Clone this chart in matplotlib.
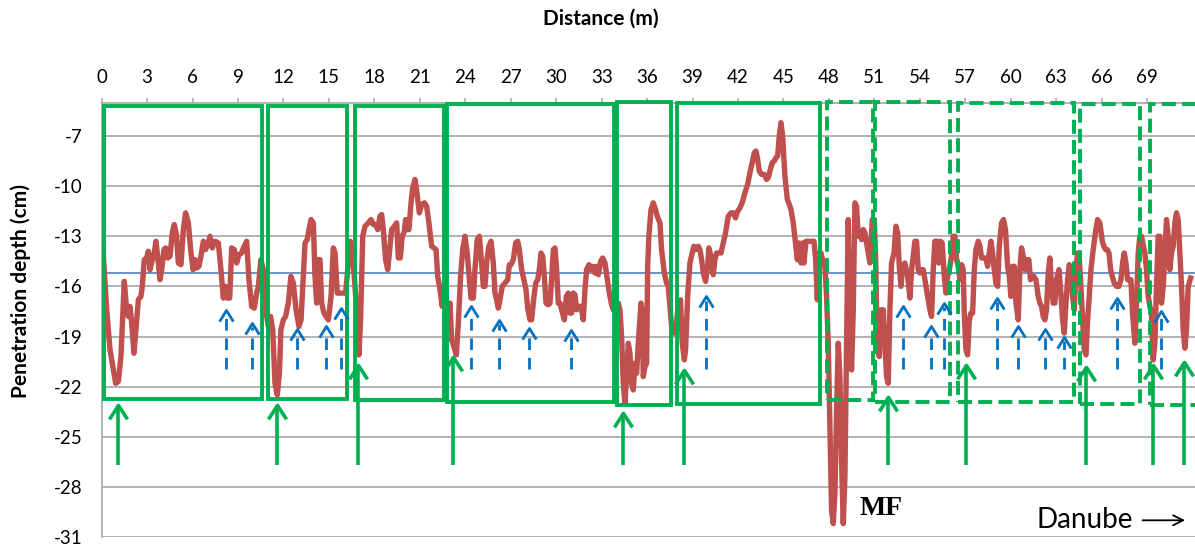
import matplotlib
matplotlib.use("Agg")
import matplotlib.pyplot as plt
from matplotlib.patches import Rectangle
from matplotlib.path import Path

plt.rcParams['font.family'] = ['Lato', 'DejaVu Sans']
plt.rcParams['axes.unicode_minus'] = False

# ---------------- data ----------------
distance = [
    0.00, 0.11, 0.33, 0.55, 0.77, 0.92, 1.10, 1.27, 1.49, 1.65, 1.76, 1.87, 1.98, 2.13, 2.31, 2.42,
    2.59, 2.68, 2.81, 2.97, 3.08, 3.19, 3.34, 3.47, 3.58, 3.69, 3.85, 3.96, 4.11, 4.22, 4.35, 4.51,
    4.66, 4.79, 4.93, 5.06, 5.23, 5.39, 5.54, 5.72, 5.87, 6.03, 6.16, 6.27, 6.42, 6.55, 6.71, 6.86,
    6.99, 7.15, 7.30, 7.48, 7.70, 7.87, 8.03, 8.18, 8.31, 8.45, 8.58, 8.75, 8.91, 9.06, 9.24, 9.35,
    9.57, 9.72, 9.90, 10.07, 10.23, 10.34, 10.51, 10.67, 10.82, 11.00, 11.15, 11.29, 11.44, 11.59,
    11.73, 11.83, 11.99, 12.14, 12.32, 12.49, 12.65, 12.83, 13.02, 13.16, 13.31, 13.42, 13.57, 13.68,
    13.82, 13.97, 14.08, 14.19, 14.30, 14.41, 14.52, 14.67, 14.81, 14.96, 15.14, 15.29, 15.40, 15.55,
    15.73, 15.95, 16.10, 16.28, 16.41, 16.54, 16.72, 16.87, 16.98, 17.09, 17.23,
    17.38, 17.60, 17.78, 17.93, 18.08, 18.22, 18.37, 18.48, 18.59, 18.74, 18.88, 19.03, 19.14, 19.32,
    19.47, 19.58, 19.71, 19.84, 19.98, 20.06, 20.20, 20.28, 20.42, 20.53, 20.68, 20.81, 20.97, 21.12,
    21.30, 21.45, 21.60, 21.78, 21.93, 22.07, 22.18, 22.33, 22.48, 22.66, 22.77, 22.88, 22.99, 23.10,
    23.28, 23.41, 23.54, 23.69, 23.83, 23.98, 24.13, 24.27, 24.38, 24.53, 24.64, 24.79, 24.93, 25.08,
    25.19, 25.30, 25.43, 25.56, 25.70, 25.85, 25.96, 26.07, 26.18, 26.29, 26.44, 26.62, 26.80, 26.91,
    27.02, 27.17, 27.33, 27.46, 27.57, 27.72, 27.87, 28.01, 28.12, 28.27, 28.38, 28.51, 28.65, 28.78,
    28.89, 29.00, 29.11, 29.22, 29.33, 29.48, 29.59, 29.70, 29.81, 29.92, 30.03, 30.14, 30.25, 30.36,
    30.54, 30.67, 30.80, 30.91, 31.02, 31.13, 31.24, 31.35, 31.46, 31.64, 31.79, 31.90, 32.01, 32.17,
    32.30, 32.41, 32.56, 32.67, 32.78, 32.94, 33.07, 33.22, 33.38, 33.51, 33.66, 33.77, 33.93, 34.10,
    34.21, 34.32, 34.43, 34.54, 34.65, 34.76, 34.87, 34.98, 35.09, 35.20, 35.31, 35.42,
    35.60, 35.68, 35.75, 35.86, 35.97, 36.04, 36.12, 36.26, 36.41, 36.56, 36.67, 36.85, 36.96, 37.14,
    37.29, 37.40, 37.51, 37.62, 37.80, 37.95, 38.06, 38.21, 38.32, 38.46, 38.54, 38.68, 38.83, 38.98,
    39.09, 39.23, 39.38, 39.49, 39.60, 39.71, 39.86, 40.00, 40.08, 40.22, 40.37, 40.48, 40.59, 40.70,
    40.88, 41.03, 41.18, 41.36, 41.54, 41.69, 41.84, 41.98, 42.13, 42.28, 42.46, 42.64, 42.79, 42.94,
    43.08, 43.19, 43.30, 43.41, 43.56, 43.74, 43.89, 44.00, 44.11, 44.26, 44.40, 44.51, 44.62, 44.73,
    44.84, 44.95, 45.10, 45.26, 45.39, 45.50, 45.65, 45.80, 45.92, 46.03, 46.16, 46.27, 46.35, 46.49,
    46.64, 46.86, 47.02, 47.13, 47.24, 47.35, 47.48, 47.63, 47.74, 47.85, 47.96, 48.07, 48.18, 48.29,
    48.40, 48.51, 48.62, 48.73, 48.84, 48.95, 49.06, 49.17, 49.28, 49.39, 49.50, 49.61, 49.72, 49.83,
    49.94, 50.05, 50.16, 50.27, 50.38, 50.49, 50.60, 50.71, 50.87, 51.00, 51.09, 51.20, 51.33, 51.44,
    51.59, 51.70, 51.81, 51.92, 52.03, 52.14, 52.30, 52.43, 52.54, 52.65, 52.76, 52.87,
    53.02, 53.20, 53.35, 53.46, 53.57, 53.68, 53.79, 53.90, 54.01, 54.12, 54.23, 54.38, 54.52, 54.67,
    54.78, 54.89, 55.00, 55.15, 55.26, 55.37, 55.48, 55.62, 55.73, 55.84, 55.99, 56.10, 56.21, 56.32,
    56.43, 56.54, 56.65, 56.76, 56.87, 56.94, 57.05, 57.16, 57.27, 57.38, 57.49, 57.60, 57.71, 57.86,
    57.97, 58.08, 58.23, 58.37, 58.48, 58.59, 58.70, 58.81, 58.92, 59.03, 59.14, 59.25, 59.40, 59.53,
    59.66, 59.80, 59.91, 60.02, 60.13, 60.24, 60.35, 60.50, 60.61, 60.72, 60.83, 60.94, 61.09, 61.20,
    61.31, 61.42, 61.53, 61.67, 61.82, 61.93, 62.04, 62.15, 62.26, 62.37, 62.48, 62.59, 62.70, 62.81,
    62.92, 63.03, 63.19, 63.30, 63.43, 63.54, 63.65, 63.76, 63.87, 63.98, 64.09, 64.20, 64.31, 64.42,
    64.53, 64.64, 64.75, 64.86, 64.97, 65.08, 65.19, 65.30, 65.45, 65.61, 65.74, 65.89, 66.05, 66.16,
    66.27, 66.38, 66.49, 66.60, 66.71, 66.84, 66.99, 67.15, 67.28, 67.39, 67.50, 67.61, 67.72, 67.83,
    67.94, 68.05, 68.20, 68.31, 68.42, 68.53, 68.64, 68.75, 68.86, 68.97, 69.08, 69.19, 69.30, 69.41,
    69.52, 69.63, 69.74, 69.85, 69.96, 70.07, 70.18, 70.29, 70.40, 70.51, 70.62, 70.73, 70.84, 70.95,
    71.06, 71.17, 71.28, 71.39, 71.50, 71.61, 71.72, 71.88,
]
depth = [
    -13.6, -14.2, -17.4, -19.8, -21.0, -21.8, -21.7, -20.2, -15.7, -17.4, -17.8, -17.2, -18.2, -20.0, -18.0, -16.8,
    -16.6, -16.0, -14.4, -14.3, -13.9, -15.0, -14.4, -14.0, -13.3, -14.2, -15.6, -15.0, -13.8, -13.7, -14.3, -14.2,
    -12.8, -12.3, -12.9, -14.6, -14.7, -12.6, -11.6, -12.2, -13.8, -15.0, -14.4, -14.9, -14.8, -14.2, -13.3, -13.8,
    -13.5, -13.0, -13.7, -13.3, -13.4, -15.0, -16.7, -16.0, -16.7, -16.7, -13.7, -13.8, -14.6, -14.1, -14.0, -13.7,
    -13.3, -15.6, -17.2, -17.3, -16.4, -16.0, -14.4, -15.0, -17.4, -18.4, -17.8, -18.6, -21.8, -22.5,
    -21.2, -18.6, -18.0, -17.8, -17.0, -15.4, -15.8, -17.4, -18.4, -18.0, -15.4, -13.4, -13.2, -12.6,
    -12.0, -12.2, -15.4, -17.0, -14.4, -14.4, -17.0, -17.6, -17.8, -18.0, -16.6, -13.7, -14.0, -16.4,
    -16.4, -16.4, -16.4, -14.6, -13.3, -13.8, -16.0, -18.0, -20.1, -18.0, -13.0,
    -12.4, -12.2, -12.0, -12.3, -12.3, -12.6, -11.8, -11.7, -12.6, -14.4, -15.0, -13.6, -12.6, -12.4,
    -12.2, -14.3, -14.3, -13.0, -12.7, -12.0, -12.6, -12.6, -11.0, -10.1, -9.6, -10.4, -11.6, -11.1,
    -11.0, -11.2, -12.2, -13.6, -13.7, -13.8, -15.4, -16.2, -17.2, -15.6, -17.4, -17.8, -17.0, -19.2,
    -19.7, -20.1, -18.2, -15.4, -13.8, -13.0, -14.0, -15.6, -16.7, -16.7, -15.0, -13.2, -13.0, -14.6,
    -16.0, -16.0, -14.4, -13.6, -13.3, -14.6, -16.4, -16.8, -17.3, -16.8, -16.0, -15.8, -15.6, -14.7,
    -14.7, -14.4, -13.4, -13.3, -13.8, -15.0, -15.6, -16.2, -17.3, -18.0, -18.0, -16.8, -15.8, -15.6,
    -15.0, -14.0, -14.2, -15.4, -17.0, -17.1, -17.0, -15.6, -13.8, -13.7, -15.0, -17.0, -17.0, -17.4,
    -18.0, -16.6, -16.4, -17.6, -17.6, -16.4, -16.5, -17.4, -17.2, -17.2, -18.0, -16.2, -15.0, -14.7,
    -15.0, -14.8, -15.2, -14.8, -15.3, -14.5, -14.3, -14.6, -15.6, -16.4, -17.1, -17.4, -17.0, -17.0,
    -17.4, -19.0, -21.8, -23.0, -21.4, -19.4, -20.0, -21.8, -22.2, -20.6, -21.2, -19.4,
    -17.0, -17.4, -21.4, -20.8, -20.6, -14.8, -13.0, -11.4, -11.0, -11.4, -11.8, -12.2, -13.8, -15.2,
    -15.8, -16.0, -17.2, -18.4, -18.8, -18.2, -17.0, -16.8, -19.4, -20.4, -19.8, -16.6, -14.6, -14.0,
    -13.6, -13.8, -13.6, -13.8, -14.4, -15.2, -15.7, -14.8, -13.7, -14.2, -15.3, -14.4, -14.0, -14.0,
    -14.0, -13.4, -12.8, -11.8, -11.6, -11.6, -11.9, -11.5, -11.3, -11.0, -10.4, -9.9, -9.2, -8.6,
    -8.0, -7.9, -8.4, -9.1, -9.3, -9.3, -9.6, -9.5, -9.1, -8.6, -8.5, -8.3, -8.2, -7.0,
    -6.2, -7.0, -9.4, -10.8, -11.1, -11.4, -12.2, -13.4, -14.4, -13.4, -14.6, -13.4, -14.6, -13.3,
    -13.3, -13.3, -13.3, -14.4, -16.8, -14.0, -14.0, -14.6, -14.8, -16.6, -19.4, -24.4, -29.4, -30.2,
    -28.4, -23.4, -19.4, -21.4, -26.4, -30.2, -27.4, -19.4, -12.0, -19.4, -21.0, -17.4, -11.0, -11.2,
    -13.0, -12.8, -13.2, -12.6, -12.8, -13.4, -14.0, -14.6, -12.0, -12.0, -14.4, -19.8, -20.2, -17.4,
    -17.4, -19.4, -21.4, -21.8, -17.4, -14.6, -14.0, -12.4, -12.8, -14.8, -16.0, -14.8,
    -14.6, -15.4, -16.7, -15.0, -14.2, -13.3, -13.3, -15.0, -15.2, -15.0, -15.0, -15.8, -16.6, -17.4,
    -17.8, -15.0, -13.3, -13.3, -14.6, -13.3, -13.4, -15.4, -16.4, -15.4, -14.8, -14.2, -13.0, -13.0,
    -14.4, -14.8, -15.6, -14.7, -15.0, -17.6, -19.8, -20.1, -18.0, -17.6, -17.6, -15.0, -13.8, -13.3,
    -13.6, -14.3, -14.3, -14.3, -14.8, -14.0, -13.3, -14.0, -15.0, -15.8, -16.0, -13.6, -12.2, -12.0,
    -12.6, -14.8, -15.4, -16.6, -14.8, -14.8, -17.0, -18.0, -15.0, -13.7, -14.2, -15.0, -14.4, -14.4,
    -15.6, -15.4, -15.4, -15.6, -16.6, -17.0, -17.2, -17.8, -18.0, -17.4, -15.2, -14.3, -16.0, -17.0,
    -17.0, -15.6, -15.0, -16.2, -18.0, -18.8, -17.0, -15.6, -14.7, -15.0, -16.6, -17.4, -15.0, -14.0,
    -14.3, -16.0, -18.0, -19.8, -20.1, -18.0, -16.6, -15.0, -13.8, -12.7, -12.0, -12.2, -13.3, -13.6,
    -13.8, -13.8, -14.0, -15.0, -15.4, -15.8, -16.0, -16.0, -15.6, -14.6, -14.0, -14.6, -15.6, -15.6,
    -15.6, -17.6, -19.4, -17.0, -14.0, -13.0, -13.0, -13.5, -14.0, -15.0, -16.6, -17.2, -17.6, -20.4,
    -19.4, -16.0, -13.0, -13.0, -17.0, -16.0, -14.0, -12.0, -13.0, -15.0, -14.0, -13.6, -12.2, -11.6,
    -12.0, -14.0, -16.0, -18.6, -19.7, -18.6, -16.0, -15.5,
]
mean_depth = -15.2

x_ticks = list(range(0, 70, 3))
y_ticks = list(range(-31, -6, 3))

# annotation boxes (m, cm)
box_left = [0.15, 11.0, 16.7, 22.8, 34.0, 38.0, 47.85, 51.05, 56.5, 64.6, 69.2]
box_right = [10.6, 16.2, 22.6, 33.8, 37.6, 47.4, 50.9, 56.0, 64.2, 68.55, 72.8]
box_top = [-5.2, -5.2, -5.2, -5.1, -4.97, -5.0, -4.95, -4.95, -5.0, -5.1, -5.1]
box_bottom = [-22.75, -22.75, -22.8, -22.9, -23.1, -23.05, -22.8, -22.9, -22.9, -23.05, -23.1]
box_dashed = [False, False, False, False, False, False, True, True, True, True, True]

# green arrows (boundaries)
green_x = [1.05, 11.6, 16.94, 23.2, 34.4, 38.44, 51.9, 57.05, 64.97, 69.4, 71.46]
green_tip = [-23.1, -23.1, -20.7, -20.2, -23.6, -21.0, -22.6, -20.7, -20.8, -20.7, -20.5]
green_base = -26.7

# blue dashed arrows (local minima)
blue_x = [8.18, 9.9, 12.9, 14.8, 15.8, 24.4, 26.25, 28.2, 31.0, 39.9,
          52.9, 54.75, 55.6, 59.1, 60.5, 62.3, 63.5, 67.0, 69.9]
blue_tip = [-17.4, -18.2, -18.55, -18.4, -17.3, -17.2, -18.0, -18.5, -18.6, -16.6,
            -17.2, -18.4, -17.0, -16.7, -18.4, -18.55, -19.0, -16.7, -17.5]
blue_base = -20.95

# ---------------- styles ----------------
RED = '#C0504D'
MEAN_BLUE = '#4F81BD'
GREEN = '#00B050'
ARROW_BLUE = '#0070C0'
GRID = '#A6A6A6'

W, H = 1195, 548
fig = plt.figure(figsize=(W / 100, H / 100), dpi=100)
x0, x1, y0, y1 = 101.7, 1195, 102.6, 537
ax = fig.add_axes([x0 / W, 1 - y1 / H, (x1 - x0) / W, (y1 - y0) / H])
ax.set_xlim(0, 72.17)
ax.set_ylim(-31, -5)
ax.xaxis.tick_top()
ax.set_xticks(x_ticks)
ax.set_yticks(y_ticks)
ax.grid(axis='y', color=GRID, lw=1.2)
ax.set_axisbelow(True)
for s in ['right', 'bottom']:
    ax.spines[s].set_visible(False)
for s in ['top', 'left']:
    ax.spines[s].set_color(GRID)
    ax.spines[s].set_linewidth(1.2)
ax.tick_params(axis='x', length=3.6, width=1.1, color=GRID, pad=8, labelsize=13.5)
ax.tick_params(axis='y', length=0, pad=14, labelsize=13.5)

ax.axhline(mean_depth, color=MEAN_BLUE, lw=1.2, zorder=2)
ax.plot(distance, depth, color=RED, lw=3.9, solid_joinstyle='round', zorder=3)

for l, r, t, b, d in zip(box_left, box_right, box_top, box_bottom, box_dashed):
    ax.add_patch(Rectangle((l, b), r - l, t - b, fill=False, edgecolor=GREEN, lw=2.8,
                           linestyle=(0, (3.6, 1.6)) if d else '-', zorder=4, clip_on=False,
                           joinstyle='miter'))

chev_g = Path([(-0.65, -1), (0, 0), (0.65, -1)], [Path.MOVETO, Path.LINETO, Path.LINETO])
chev_b = Path([(-0.62, -1), (0, 0), (0.62, -1)], [Path.MOVETO, Path.LINETO, Path.LINETO])

ax.vlines(green_x, green_base, green_tip, color=GREEN, lw=2.6, zorder=5)
ax.plot(green_x, green_tip, ls='none', marker=chev_g, ms=20, mfc='none', mec=GREEN, mew=2.6, zorder=5)

ax.vlines(blue_x, blue_base, [t - 0.25 for t in blue_tip], color=ARROW_BLUE, lw=2.0,
          linestyles=(0, (4.2, 2.8)), zorder=5)
ax.plot(blue_x, blue_tip, ls='none', marker=chev_b, ms=16, mfc='none', mec=ARROW_BLUE, mew=2.0, zorder=5)

ax.text(51.44, -29.28, 'MF', family=['Liberation Serif', 'DejaVu Serif'], weight='bold',
        size=20, ha='center', va='center', zorder=6)
ax.text(64.87, -29.97, 'Danube', size=20, ha='center', va='center', zorder=6)
ax.annotate('', xy=(71.7, -30.0), xytext=(68.53, -30.0),
            arrowprops=dict(arrowstyle='->', lw=1.3, color='black', mutation_scale=18), zorder=6)

fig.text(601 / W, 1 - 19 / H, 'Distance (m)', weight='bold', size=15, ha='center', va='center')
fig.text(21 / W, 1 - 291 / H, 'Penetration depth (cm)', weight='bold', size=15,
         ha='center', va='center', rotation=90)

fig.savefig('out.png', dpi=100)
